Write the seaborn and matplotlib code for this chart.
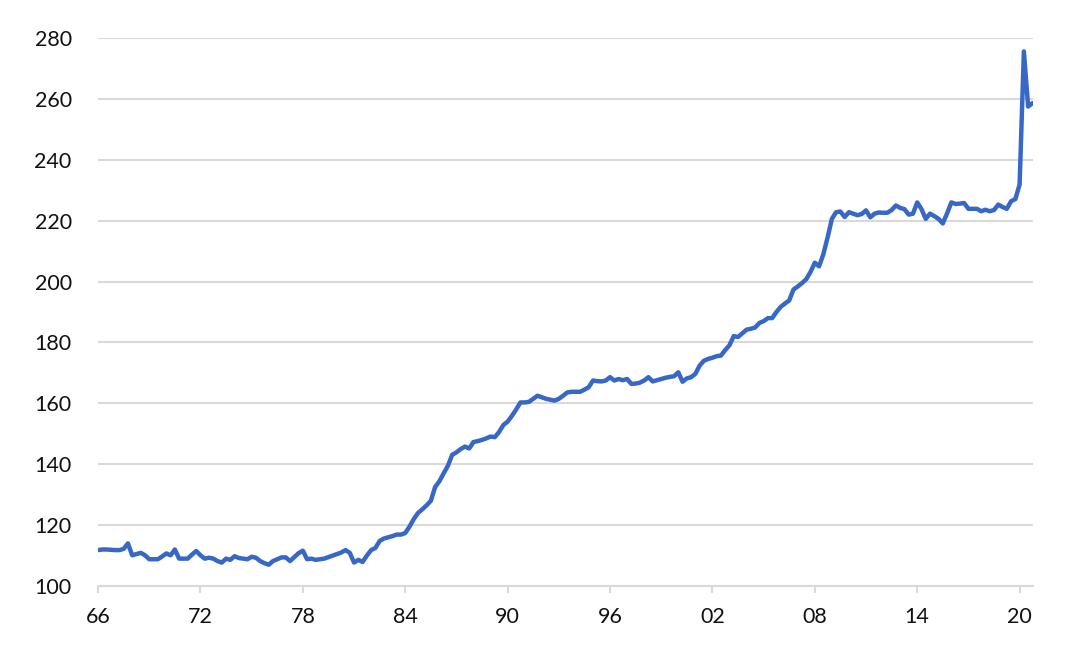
import matplotlib
matplotlib.use('Agg')
import matplotlib.pyplot as plt
import seaborn as sns
import numpy as np
import pandas as pd

# quarterly index values, 1966Q1 .. 2020Q4 (one row per year)
start_year = 1966
values = [
    111.8, 112.0, 112.0, 111.9,   # 1966
    111.8, 111.8, 112.2, 114.0,   # 1967
    110.1, 110.5, 110.9, 110.1,   # 1968
    108.8, 108.8, 108.8, 109.7,   # 1969
    110.7, 110.1, 112.0, 109.0,   # 1970
    109.0, 109.0, 110.3, 111.5,   # 1971
    110.1, 109.0, 109.3, 109.0,   # 1972
    108.2, 107.7, 109.0, 108.6,   # 1973
    109.8, 109.2, 109.0, 108.8,   # 1974
    109.6, 109.3, 108.2, 107.5,   # 1975
    107.0, 108.2, 108.8, 109.4,   # 1976
    109.4, 108.2, 109.5, 110.8,   # 1977
    111.6, 108.8, 109.0, 108.6,   # 1978
    108.8, 109.0, 109.5, 110.0,   # 1979
    110.5, 111.0, 111.8, 110.9,   # 1980
    107.7, 108.6, 107.9, 110.0,   # 1981
    111.8, 112.5, 114.8, 115.6,   # 1982
    116.0, 116.4, 116.9, 116.9,   # 1983
    117.4, 119.5, 122.0, 124.0,   # 1984
    125.2, 126.5, 128.0, 132.5,   # 1985
    134.4, 137.0, 139.5, 143.1,   # 1986
    143.9, 145.0, 145.8, 145.2,   # 1987
    147.3, 147.6, 148.0, 148.5,   # 1988
    149.1, 148.9, 150.6, 152.9,   # 1989
    154.0, 155.9, 158.0, 160.3,   # 1990
    160.3, 160.5, 161.5, 162.5,   # 1991
    162.0, 161.5, 161.2, 160.9,   # 1992
    161.5, 162.5, 163.6, 163.8,   # 1993
    163.8, 163.8, 164.5, 165.3,   # 1994
    167.5, 167.3, 167.2, 167.5,   # 1995
    168.6, 167.5, 168.0, 167.6,   # 1996
    168.0, 166.4, 166.5, 166.8,   # 1997
    167.5, 168.6, 167.2, 167.6,   # 1998
    168.0, 168.4, 168.7, 168.9,   # 1999
    170.2, 167.1, 168.2, 168.6,   # 2000
    169.7, 172.4, 174.0, 174.6,   # 2001
    175.0, 175.5, 175.7, 177.5,   # 2002
    179.1, 182.1, 181.8, 183.0,   # 2003
    184.2, 184.5, 184.9, 186.4,   # 2004
    187.0, 188.0, 188.0, 190.0,   # 2005
    191.7, 192.8, 193.8, 197.4,   # 2006
    198.4, 199.5, 200.8, 203.2,   # 2007
    206.2, 205.0, 209.0, 214.5,   # 2008
    220.6, 222.8, 223.0, 221.2,   # 2009
    222.8, 222.3, 221.8, 222.2,   # 2010
    223.4, 221.1, 222.3, 222.7,   # 2011
    222.6, 222.6, 223.5, 225.0,   # 2012
    224.2, 223.8, 222.0, 222.3,   # 2013
    226.0, 223.8, 220.6, 222.3,   # 2014
    221.5, 220.6, 219.1, 222.4,   # 2015
    226.0, 225.5, 225.6, 225.8,   # 2016
    223.9, 223.9, 223.9, 223.1,   # 2017
    223.6, 223.1, 223.5, 225.3,   # 2018
    224.5, 223.9, 226.4, 227.1,   # 2019
    231.9, 275.6, 257.5, 258.6,   # 2020
]
years = start_year + np.arange(len(values)) / 4.0

tick_years = [1966, 1972, 1978, 1984, 1990, 1996, 2002, 2008, 2014, 2020]
tick_labels = ['66', '72', '78', '84', '90', '96', '02', '08', '14', '20']
y_ticks = [100, 120, 140, 160, 180, 200, 220, 240, 260, 280]

df = pd.DataFrame({'year': years, 'value': values})

sns.set_theme(style='white')
plt.rcParams['font.family'] = ['Lato', 'DejaVu Sans']

fig = plt.figure(figsize=(10.67, 6.51), dpi=100)
ax = fig.add_axes([0.0919, 0.0998, 0.876, 0.8418])

sns.lineplot(data=df, x='year', y='value', color='#3768c6', linewidth=3.2, ax=ax)

grid_c = '#d9d9d9'
ax.set_xlim(1966, years[-1] + 0.02)
ax.set_ylim(100, 280)
ax.set_yticks(y_ticks)
ax.set_xticks(tick_years)
ax.set_xticklabels(tick_labels)
ax.yaxis.grid(True, color=grid_c, linewidth=1.5)
ax.xaxis.grid(False)
ax.set_axisbelow(True)
for s in ['top', 'right', 'left']:
    ax.spines[s].set_visible(False)
ax.spines['bottom'].set_color(grid_c)
ax.spines['bottom'].set_linewidth(1.5)
ax.tick_params(axis='x', bottom=True, length=5, width=1.5, color=grid_c,
               pad=10, labelsize=15.5, labelcolor='#111111')
ax.tick_params(axis='y', left=False, pad=13, labelsize=15.5, labelcolor='#111111')
ax.set_xlabel('')
ax.set_ylabel('')

fig.savefig('out.png', dpi=100)
